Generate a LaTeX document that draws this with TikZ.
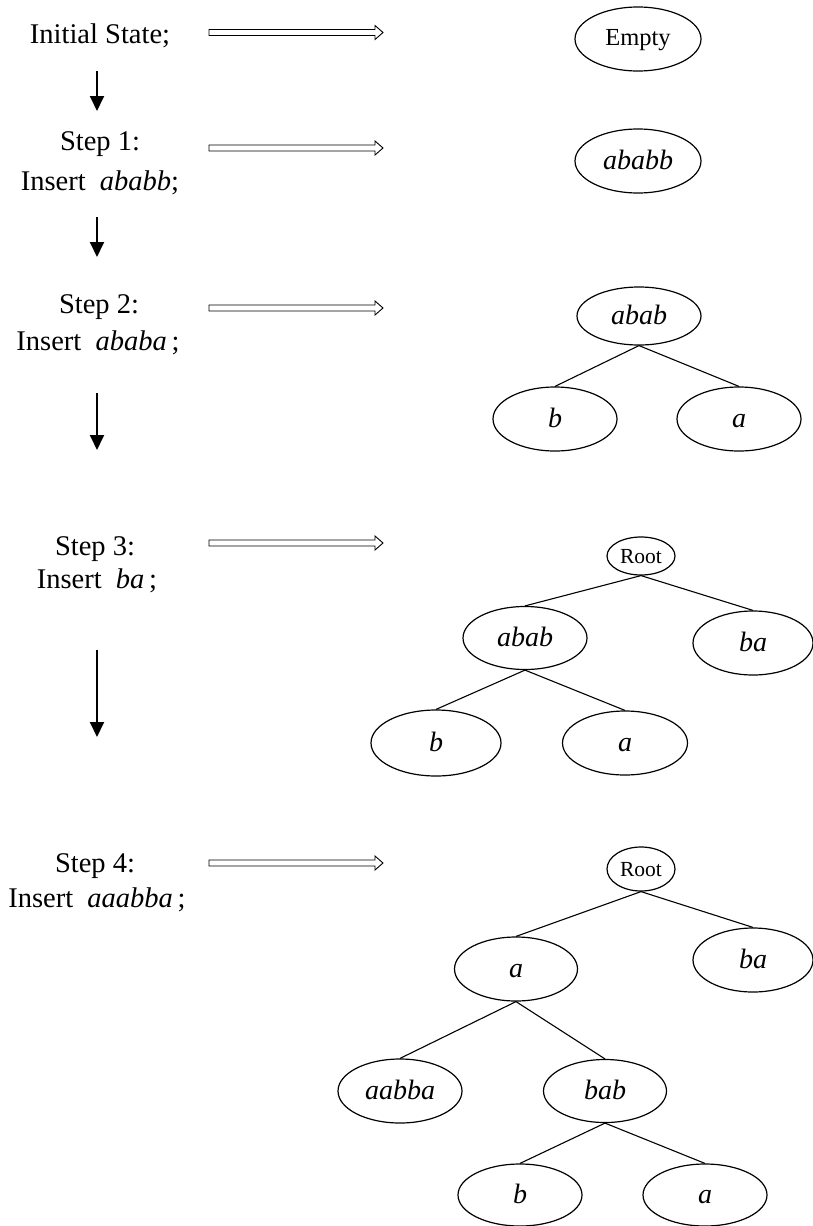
\documentclass[tikz,border=0pt]{standalone}
\usepackage{fontspec}
\setmainfont{Liberation Serif}
\usetikzlibrary{shapes.geometric,calc,arrows.meta}
\newcommand{\dblarrow}[2]{%
  \draw[dbl] ($(#1)+(0,-3)$) -- ($(#2)+(-8,-3)$) -- ($(#2)+(-8,-7)$) -- (#2)
    -- ($(#2)+(-8,7)$) -- ($(#2)+(-8,3)$) -- ($(#1)+(0,3)$) -- cycle;}
\begin{document}
\begin{tikzpicture}[x=1pt,y=-1pt,
  lbl/.style={anchor=base,inner sep=0pt,font=\fontsize{28.5}{34}\selectfont},
  nd/.style={ellipse,draw,line width=1.2pt,inner sep=0pt,minimum width=124pt,minimum height=64pt,
    text height=18pt,text depth=2pt,font=\fontsize{28}{33}\selectfont\itshape},
  rootnd/.style={ellipse,draw,line width=1.2pt,inner sep=0pt,minimum width=68pt,minimum height=40pt,
    text height=14pt,text depth=0pt,font=\fontsize{21.5}{25}\selectfont},
  edge/.style={line width=1.1pt},
  down/.style={line width=1.9pt,-{Triangle[length=15pt,width=14pt]}},
  dbl/.style={line width=0.9pt,fill=white}]
\useasboundingbox (0,0) rectangle (812,1226);

% left column labels
\node[lbl] (t0) at (100,43) {Initial State;};
\node[lbl] (t1a) at (100,150) {Step 1:};
\node[lbl] (t1b) at (100,190) {Insert\ \ \textit{ababb};};
\node[lbl] (t2a) at (99,313) {Step 2:};
\node[lbl] (t2b) at (98,350) {Insert\ \ \textit{ababa}\,;};
\node[lbl] (t3a) at (95,555) {Step 3:};
\node[lbl] (t3b) at (97,588) {Insert\ \ \textit{ba}\,;};
\node[lbl] (t4a) at (95,872) {Step 4:};
\node[lbl] (t4b) at (97,907) {Insert\ \ \textit{aaabba}\,;};

% down arrows
\coordinate (d1s) at (97,71);  \coordinate (d1e) at (97,111);
\coordinate (d2s) at (97,217); \coordinate (d2e) at (97,257);
\coordinate (d3s) at (97,393); \coordinate (d3e) at (97,450);
\coordinate (d4s) at (97,650); \coordinate (d4e) at (97,737);
\draw[down] (d1s) -- (d1e);
\draw[down] (d2s) -- (d2e);
\draw[down] (d3s) -- (d3e);
\draw[down] (d4s) -- (d4e);

% double arrows
\coordinate (h0s) at (209,32.5);  \coordinate (h0e) at (383,32.5);
\coordinate (h1s) at (209,148);   \coordinate (h1e) at (383,148);
\coordinate (h2s) at (209,308);   \coordinate (h2e) at (383,308);
\coordinate (h3s) at (209,543);   \coordinate (h3e) at (383,543);
\coordinate (h4s) at (209,863);   \coordinate (h4e) at (383,863);
\dblarrow{h0s}{h0e}
\dblarrow{h1s}{h1e}
\dblarrow{h2s}{h2e}
\dblarrow{h3s}{h3e}
\dblarrow{h4s}{h4e}

% initial
\node[nd,minimum width=126pt,font=\fontsize{24.5}{29}\selectfont,text height=16pt,text depth=3pt] (empty) at (638,39) {Empty};
% step 1
\node[nd,minimum width=126pt] (s1) at (638,161) {ababb};
% step 2
\node[nd,minimum height=58pt] (s2r) at (639,316) {abab};
\node[nd] (s2b) at (555,419) {b};
\node[nd] (s2a) at (739,419) {a};
\draw[edge] (s2r.south) -- (s2b.north);
\draw[edge] (s2r.south) -- (s2a.north);
% step 3
\node[rootnd,minimum height=38pt] (s3root) at (641,556) {Root};
\node[nd,minimum height=63pt] (s3ab) at (525,638) {abab};
\node[nd,minimum width=120pt] (s3ba) at (753,643) {ba};
\node[nd,minimum width=130pt,minimum height=66pt] (s3b) at (436,743) {b};
\node[nd,minimum width=125pt] (s3a) at (625,743) {a};
\draw[edge] (s3root.south) -- (s3ab.north);
\draw[edge] (s3root.south) -- (s3ba.north);
\draw[edge] (s3ab.south) -- (s3b.north);
\draw[edge] (s3ab.south) -- (s3a.north);
% step 4
\node[rootnd,minimum height=44pt] (s4root) at (641,869) {Root};
\node[nd,minimum width=123pt] (s4a) at (516,969) {a};
\node[nd,minimum width=120pt] (s4ba) at (753,960) {ba};
\node[nd] (s4aabba) at (400,1091) {aabba};
\node[nd,minimum width=123pt,minimum height=63pt] (s4bab) at (605,1091) {bab};
\node[nd,minimum height=62pt] (s4b) at (520,1195) {b};
\node[nd,minimum height=62pt] (s4aa) at (705,1195) {a};
\draw[edge] (s4root.south) -- (s4a.north);
\draw[edge] (s4root.south) -- (s4ba.north);
\draw[edge] (s4a.south) -- (s4aabba.north);
\draw[edge] (s4a.south) -- (s4bab.north);
\draw[edge] (s4bab.south) -- (s4b.north);
\draw[edge] (s4bab.south) -- (s4aa.north);
\end{tikzpicture}
\end{document}
